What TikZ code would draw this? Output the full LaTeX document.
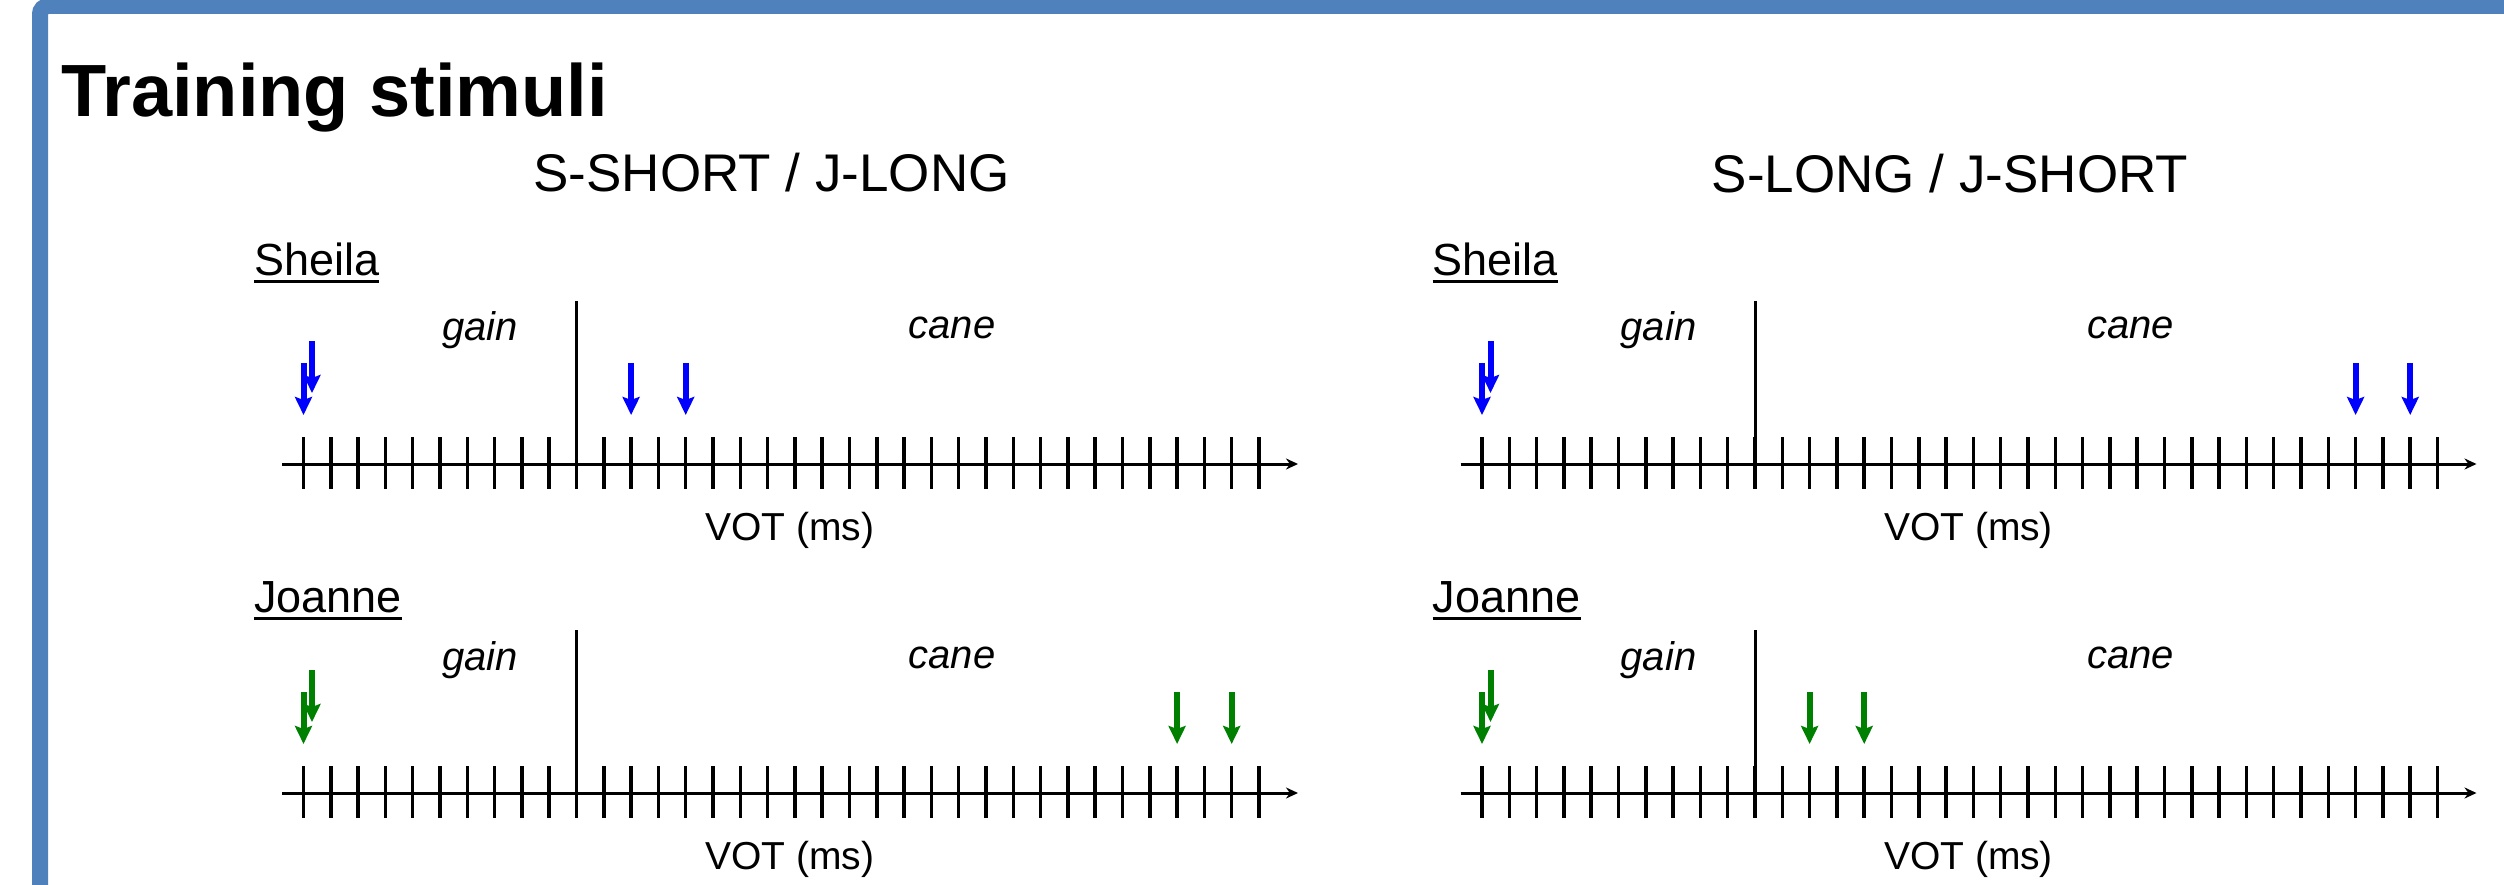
\documentclass[tikz,border=0pt]{standalone}
\usepackage{fontspec}
\setmainfont{Liberation Sans}
\usetikzlibrary{arrows.meta,calc}
\definecolor{frameblue}{RGB}{79,129,189}
\definecolor{stimblue}{RGB}{0,0,255}
\definecolor{stimgreen}{RGB}{0,128,0}
\tikzset{
  frameline/.style={draw=frameblue, line width=16pt, rounded corners=8pt},
  axisline/.style={line width=3pt, -{Stealth[length=12pt,width=11pt]}},
  tickline/.style={line width=3.5pt},
  boundline/.style={line width=3pt},
  stimarrow/.style={line width=6pt, -{Stealth[length=18pt,width=17pt,inset=3pt]}},
  titlelbl/.style={inner sep=0pt, anchor=base west, font=\bfseries\fontsize{74}{84}\selectfont},
  headlbl/.style={inner sep=0pt, anchor=base, font=\fontsize{53}{60}\selectfont},
  spklbl/.style={inner sep=0pt, anchor=base west, font=\fontsize{45}{52}\selectfont},
  wordlbl/.style={inner sep=0pt, anchor=base, font=\itshape\fontsize{40}{46}\selectfont},
  votlbl/.style={inner sep=0pt, anchor=base, font=\fontsize{39}{45}\selectfont},
  underl/.style={line width=3pt}
}
\begin{document}
\begin{tikzpicture}[x=1pt,y=-1pt]
\useasboundingbox (0,0) rectangle (2504,885);
\begin{scope}
  \clip (0,0) rectangle (2504,885);
  \draw[frameline] (40,6) rectangle (2700,1100);
\end{scope}

\node[titlelbl] (title) at (61,117) {Training stimuli};
\node[headlbl] (head1) at (771.5,192) {S-SHORT / J-LONG};
\node[headlbl] (head2) at (1950,193) {S-LONG / J-SHORT};

\foreach \pn/\dx/\ay/\spk/\sy/\col/\ia/\ib in {
  pa/0/464/Sheila/188/stimblue/12/14,
  pb/0/793/Joanne/181/stimgreen/32/34,
  pc/1178.5/464/Sheila/188/stimblue/32/34,
  pd/1178.5/793/Joanne/181/stimgreen/12/14}{
  \coordinate (\pn-o) at (303.5+\dx,\ay);
  \coordinate (\pn-s) at (282+\dx,\ay);
  \coordinate (\pn-e) at (1298+\dx,\ay);
  \draw[axisline] (\pn-s) -- (\pn-e);
  \foreach \k in {0,...,35}{
    \coordinate (\pn-t\k) at ($(\pn-o)+(27.3*\k,0)$);
    \draw[tickline] ($(\pn-t\k)+(0,-27)$) -- ($(\pn-t\k)+(0,25)$);
  }
  \coordinate (\pn-btop) at ($(\pn-t10)+(0,-163)$);
  \coordinate (\pn-bbot) at ($(\pn-t10)+(0,25)$);
  \draw[boundline] (\pn-btop) -- (\pn-bbot);
  \node[wordlbl] (\pn-gain) at ($(\pn-o)+(176.5,-123)$) {gain};
  \node[wordlbl] (\pn-cane) at ($(\pn-o)+(648.5,-125)$) {cane};
  \node[votlbl] (\pn-vot) at ($(\pn-o)+(486.5,76)$) {VOT (ms)};
  \node[spklbl] (\pn-spk) at ($(\pn-o)+(-49.5,-\sy)$) {\spk};
  \draw[underl] ([yshift=-6pt]\pn-spk.base west) -- ([yshift=-6pt]\pn-spk.base east);
  \draw[\col, stimarrow] ($(\pn-t0)+(0,-101)$) -- ($(\pn-t0)+(0,-49)$);
  \draw[\col, stimarrow] ($(\pn-t0)+(8.5,-123)$) -- ($(\pn-t0)+(8.5,-71)$);
  \draw[\col, stimarrow] ($(\pn-t\ia)+(0,-101)$) -- ($(\pn-t\ia)+(0,-49)$);
  \draw[\col, stimarrow] ($(\pn-t\ib)+(0,-101)$) -- ($(\pn-t\ib)+(0,-49)$);
}
\end{tikzpicture}
\end{document}
